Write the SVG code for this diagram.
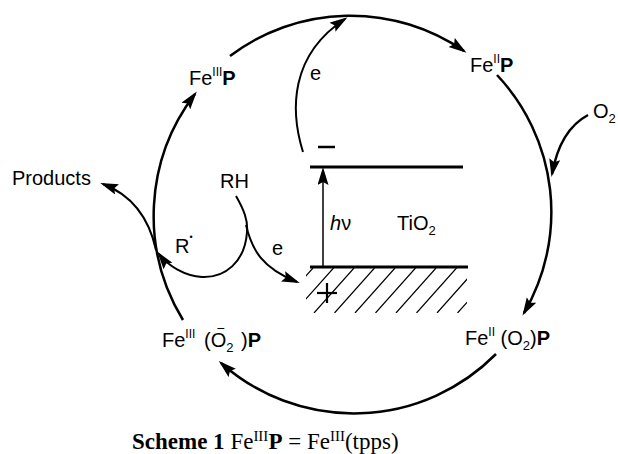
<svg xmlns="http://www.w3.org/2000/svg" width="618" height="454" viewBox="0 0 618 454">
<style>
.lbl{font-family:"Liberation Sans",Arial,sans-serif;font-size:20px;fill:#000}
.sup{font-size:12px}
.sub{font-size:13px}
.b{font-weight:bold}
.cap{font-family:"Liberation Serif","Times New Roman",serif;font-size:23px;fill:#000}
.c{fill:none;stroke:#000;stroke-width:2.5}
.t{fill:none;stroke:#000;stroke-width:2}
.h{fill:none;stroke:#000;stroke-width:1.2}
</style>
<defs>
<marker id="ah" markerUnits="userSpaceOnUse" markerWidth="20" markerHeight="12" refX="15" refY="5.5" orient="auto">
<path d="M0,0 L18,5.5 L0,11 L3,5.5 z" fill="#000"/>
</marker>
<clipPath id="hc"><rect x="306" y="268" width="161" height="45"/></clipPath>
</defs>
<rect width="618" height="454" fill="#fff"/>

<g id="connectors">
<path class="c" d="M230,56 A200,200 0 0,1 464,51" marker-end="url(#ah)"/>
<path class="c" d="M497,75 A200,200 0 0,1 524,313" marker-end="url(#ah)"/>
<path class="c" d="M496,354 A200,200 0 0,1 221,363" marker-end="url(#ah)"/>
<path class="c" d="M183,320 A200,200 0 0,1 195,94" marker-end="url(#ah)"/>
<path class="c" d="M588,115 Q560,130 552,174" marker-end="url(#ah)"/>
<path class="t" d="M303,152 C290,110 290,55 345,19" marker-end="url(#ah)"/>
<path class="t" d="M156,250 Q145,200 103,184" marker-end="url(#ah)"/>
<path class="t" d="M236,196 C244,210 248,220 247,232 C245,262 225,278 202,277 C185,276 168,266 159,254" marker-end="url(#ah)"/>
<path class="t" d="M246,225 C252,250 262,268 297,282" marker-end="url(#ah)"/>
<line x1="323" y1="267" x2="323" y2="170" stroke="#000" stroke-width="1.5" marker-end="url(#ah)"/>
</g>

<g id="tio2">
<line x1="310" y1="167" x2="463" y2="167" stroke="#000" stroke-width="3"/>
<line x1="310" y1="267" x2="468" y2="267" stroke="#000" stroke-width="3"/>
<line x1="318" y1="147" x2="335" y2="147" stroke="#000" stroke-width="2.5"/>
<g clip-path="url(#hc)">
<path class="h" d="M313,268 l-40,45 M333.5,268 l-40,45 M354,268 l-40,45 M374.5,268 l-40,45 M395,268 l-40,45 M415.5,268 l-40,45 M436,268 l-40,45 M456.5,268 l-40,45 M477,268 l-40,45 M497.5,268 l-40,45 M518,268 l-40,45"/>
</g>
<line x1="317" y1="293" x2="337" y2="293" stroke="#000" stroke-width="2.2"/>
<line x1="327" y1="283" x2="327" y2="303" stroke="#000" stroke-width="2.2"/>
<text class="lbl" x="330" y="230"><tspan font-style="italic">h</tspan>ν</text>
<text class="lbl" x="397" y="230">TiO<tspan class="sub" dy="5">2</tspan></text>
</g>

<g id="n-fe3p"><text class="lbl" x="189" y="85">Fe<tspan class="sup" dy="-9">III</tspan><tspan class="b" dy="9">P</tspan></text></g>
<g id="n-fe2p"><text class="lbl" x="470" y="72">Fe<tspan class="sup" dy="-9">II</tspan><tspan class="b" dy="9">P</tspan></text></g>
<g id="n-o2"><text class="lbl" x="593" y="118">O<tspan class="sub" dy="5">2</tspan></text></g>
<g id="n-fe2o2p"><text class="lbl" x="465" y="345">Fe<tspan class="sup" dy="-9">II</tspan><tspan dy="9"> (O</tspan><tspan class="sub" dy="5">2</tspan><tspan dy="-5">)</tspan><tspan class="b">P</tspan></text></g>
<g id="n-fe3o2p"><text class="lbl" x="162" y="347">Fe<tspan class="sup" dy="-9">III</tspan><tspan x="204" dy="9">(O</tspan><tspan class="sub" dy="5">2</tspan><tspan font-size="14" dx="-17" dy="-19">−</tspan><tspan x="241" dy="14">)</tspan><tspan class="b">P</tspan></text></g>
<g id="n-products"><text class="lbl" x="12" y="185">Products</text></g>
<g id="n-rh"><text class="lbl" x="220" y="188">RH</text></g>
<g id="n-r"><text class="lbl" x="175" y="253">R<tspan font-size="9" dy="-13">•</tspan></text></g>
<g id="n-e1"><text class="lbl" x="310" y="80">e</text></g>
<g id="n-e2"><text class="lbl" x="272" y="255">e</text></g>

<g id="caption"><text class="cap" x="132" y="449"><tspan class="b">Scheme 1</tspan> Fe<tspan font-size="15" dy="-8">III</tspan><tspan class="b" dy="8">P</tspan> = Fe<tspan font-size="15" dy="-8">III</tspan><tspan dy="8">(tpps)</tspan></text></g>
</svg>
